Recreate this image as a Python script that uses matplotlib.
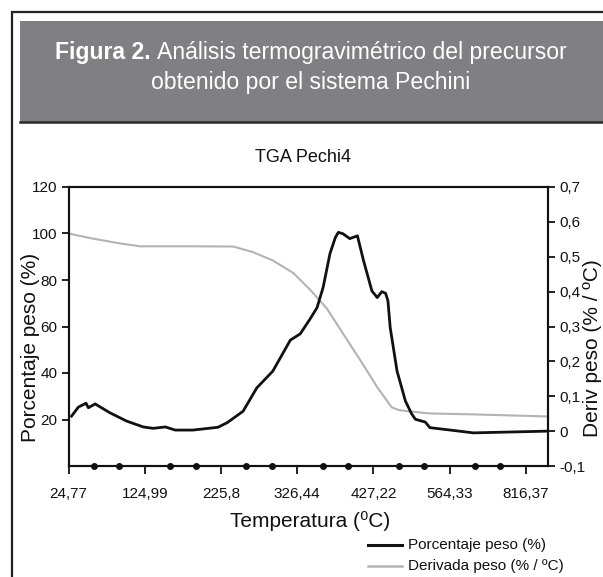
import matplotlib
matplotlib.use("Agg")
import matplotlib.pyplot as plt
from matplotlib.patches import Rectangle
from matplotlib.lines import Line2D

plt.rcParams['font.family'] = ['Liberation Sans Narrow', 'Liberation Sans', 'DejaVu Sans']

# x axis is by sample index: one unit = one labelled tick step
temp_labels = ["24,77", "124,99", "225,8", "326,44", "427,22", "564,33", "816,37"]

# grey curve, left axis (%)
pos_peso = [0.00, 0.32, 0.68, 0.94, 1.20, 1.60, 2.16, 2.42, 2.68, 2.95, 3.17,
            3.39, 3.60, 3.83, 4.05, 4.24, 4.34, 4.44, 4.74, 5.31, 6.29]
peso = [100.0, 97.8, 95.7, 94.5, 94.5, 94.5, 94.4, 92.0, 88.4, 83.0, 75.8,
        67.7, 57.0, 45.4, 33.9, 25.2, 24.0, 23.6, 22.6, 22.2, 21.3]

# black curve, right axis (% / C)
pos_deriv = [0.04, 0.13, 0.23, 0.26, 0.35, 0.54, 0.76, 0.98, 1.11, 1.27, 1.40,
             1.63, 1.96, 2.08, 2.29, 2.47, 2.68, 2.91, 3.04, 3.17, 3.26, 3.34,
             3.43, 3.50, 3.54, 3.60, 3.69, 3.79, 3.87, 3.98, 4.05, 4.11, 4.16,
             4.19, 4.22, 4.31, 4.42, 4.50, 4.55, 4.68, 4.74, 5.01, 5.31, 6.29]
deriv = [0.043, 0.069, 0.080, 0.067, 0.078, 0.053, 0.029, 0.012, 0.008, 0.012, 0.003,
         0.003, 0.011, 0.024, 0.057, 0.124, 0.172, 0.261, 0.279, 0.322, 0.354, 0.412,
         0.509, 0.555, 0.570, 0.566, 0.552, 0.560, 0.489, 0.402, 0.383, 0.400, 0.395,
         0.374, 0.297, 0.172, 0.086, 0.050, 0.034, 0.026, 0.010, 0.003, -0.005, 0.000]

fig = plt.figure(figsize=(6.03, 5.77), dpi=100)
W, H = 603, 577

def fx(px):
    return px / W

def fy(py):
    return 1 - py / H

# outer frame and grey header band
fig.add_artist(Rectangle((fx(12), fy(600)), fx(620), fy(12) - fy(600),
                         fill=False, ec='#222222', lw=1.6, transform=fig.transFigure))
fig.add_artist(Rectangle((fx(20), fy(122)), fx(600), fy(21) - fy(122),
                         fc='#808084', ec='none', transform=fig.transFigure))
fig.add_artist(Line2D([fx(20), 1], [fy(122), fy(122)], color='#2a2a2a', lw=1.8,
                      transform=fig.transFigure))
hsize = 16.6
fig.text(fx(311), fy(82), "obtenido por el sistema Pechini", color='white',
         fontsize=hsize, ha='center', va='center')

ax = fig.add_axes([fx(68.5), fy(466), fx(548) - fx(68.5), fy(187) - fy(466)])
ax2 = ax.twinx()

ax.plot(pos_peso, peso, color='#b3b3b3', lw=1.5, zorder=2)
ax2.plot(pos_deriv, deriv, color='#111111', lw=2.0, solid_joinstyle='round', zorder=3)

ax.set_xlim(0, 6.29)
ax.set_ylim(0, 120)
ax2.set_ylim(-0.1, 0.7)
ax.set_xticks(range(len(temp_labels)))
ax.set_xticklabels(temp_labels)
ax.set_yticks([20, 40, 60, 80, 100, 120])
ax2.set_yticks([-0.1, 0, 0.1, 0.2, 0.3, 0.4, 0.5, 0.6, 0.7])
ax2.set_yticklabels(["-0,1", "0", "0,1", "0,2", "0,3", "0,4", "0,5", "0,6", "0,7"])

for a in (ax, ax2):
    for s in a.spines.values():
        s.set_linewidth(1.5)
        s.set_color('#111111')
ax.tick_params(axis='both', direction='out', length=5, width=1.3, labelsize=11,
               colors='#111111', pad=3)
ax.tick_params(axis='x', length=6, pad=9)
ax2.tick_params(axis='y', direction='out', length=5, width=1.3, labelsize=11,
                colors='#111111', pad=3)

# dots between the labelled ticks
dots = [k / 3 for k in range(1, 19) if k % 3]
ax.plot(dots, [0] * len(dots), 'o', color='#111111', ms=4, clip_on=False,
        transform=ax.get_xaxis_transform(), zorder=5)

fig.text(fx(303), fy(158), "TGA Pechi4", fontsize=13, ha='center', va='center',
         color='#111111')
fig.text(fx(310), fy(521), "Temperatura (⁰C)", fontsize=15, ha='center', va='center',
         color='#111111')
fig.text(fx(31), fy(347), "Porcentaje peso (%)", fontsize=15, rotation=90,
         ha='center', va='center', color='#111111')
fig.text(fx(593), fy(348), "Deriv peso (% / ºC)", fontsize=15, rotation=90,
         ha='center', va='center', color='#111111')

# legend as in the source figure
fig.add_artist(Line2D([fx(368), fx(402)], [fy(545), fy(545)], color='#111111', lw=2.2,
                      transform=fig.transFigure))
fig.add_artist(Line2D([fx(368), fx(402)], [fy(566), fy(566)], color='#b3b3b3', lw=1.8,
                      transform=fig.transFigure))
fig.text(fx(408), fy(545), "Porcentaje peso (%)", fontsize=11, va='center',
         color='#111111')
fig.text(fx(408), fy(566), "Derivada peso (% / ºC)", fontsize=11, va='center',
         color='#111111')

# header first line: bold lead-in followed by regular text
fig.canvas.draw()
r = fig.canvas.get_renderer()
bold = fig.text(0, fy(53), "Figura 2. ", color='white', fontsize=hsize, fontweight='bold',
                va='center')
rest = fig.text(0, fy(53), "Análisis termogravimétrico del precursor", color='white',
                fontsize=hsize, va='center')
wb = bold.get_window_extent(r).width / W
wr = rest.get_window_extent(r).width / W
x0 = fx(311) - (wb + wr) / 2
bold.set_x(x0)
rest.set_x(x0 + wb)

fig.savefig("out.png", dpi=100)
